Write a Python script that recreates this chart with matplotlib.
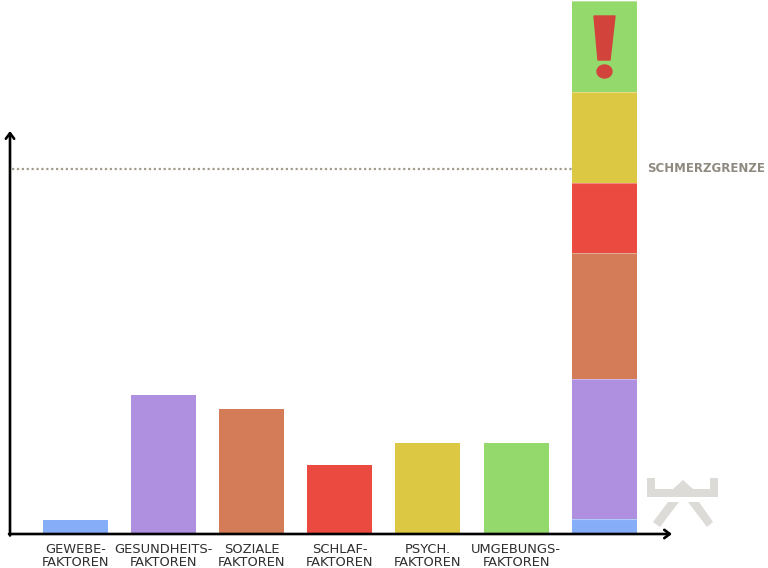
import matplotlib
matplotlib.use('Agg')
import matplotlib.pyplot as plt
from matplotlib.patches import Polygon, Ellipse

# bar heights
categories = ['GEWEBE-\nFAKTOREN', 'GESUNDHEITS-\nFAKTOREN', 'SOZIALE\nFAKTOREN',
              'SCHLAF-\nFAKTOREN', 'PSYCH.\nFAKTOREN', 'UMGEBUNGS-\nFAKTOREN']
values = [14, 139, 125, 69, 91, 91]
colors = ['#86aef8', '#af8fdf', '#d47b57', '#eb4a40', '#dcc842', '#93d96b']
stack_values = [15, 140, 126, 70, 91, 91]
threshold = 365

W, H = 768, 568
BASE = 534
SPACING = 88.1
X0 = 75.5
STACK_X = 6.0


def px(x, y):
    # picture pixels to data coordinates
    return (x - X0) / SPACING, BASE - y


fig = plt.figure(figsize=(7.68, 5.68), dpi=100)
ax = fig.add_axes([0, 0, 1, 1])
ax.set_xlim((0 - X0) / SPACING, (W - X0) / SPACING)
ax.set_ylim(BASE - H, BASE)
ax.axis('off')
bar_w = 65 / SPACING

positions = list(range(len(values)))
ax.bar(positions, values, width=bar_w, color=colors, linewidth=0)

# stacked column on the right
bottom = 0
for v, c in zip(stack_values, colors):
    ax.bar(STACK_X, v, bottom=bottom, width=bar_w, color=c, edgecolor='none', zorder=2)
    ax.plot([STACK_X - bar_w / 2, STACK_X + bar_w / 2], [bottom + v] * 2, color='#ffffff',
            alpha=0.35, lw=0.8, zorder=3)
    bottom += v

# threshold
ax.plot([px(12, 0)[0], STACK_X - bar_w / 2], [threshold, threshold], color='#a39c8c',
        lw=1.6, ls=(0, (1, 1.2)), zorder=1)
ax.text(*px(647, 168), 'SCHMERZGRENZE', color='#8f8a80', fontsize=8.5, fontweight='bold',
        family='DejaVu Sans', va='center', ha='left')

# axes arrows
arrow = dict(arrowstyle='->,head_length=0.4,head_width=0.3', color='black', lw=1.9,
             shrinkA=0, shrinkB=0)
ax.annotate('', xy=px(10, 131), xytext=px(10, 535.5), arrowprops=arrow, zorder=5)
ax.annotate('', xy=px(672, 534), xytext=px(9, 534), arrowprops=arrow, zorder=5)

# labels
for i, label in enumerate(categories):
    ax.text(i, px(0, 556)[1], label, ha='center', va='center', fontsize=9.4,
            color='#2f2f2f', linespacing=1.0, family='DejaVu Sans')

# exclamation mark
mark = [(594, 16), (615, 16), (610, 60), (598, 60)]
ax.add_patch(Polygon([px(*p) for p in mark], closed=True, color='#d2433c', zorder=4,
                     joinstyle='round', lw=1))
ax.add_patch(Ellipse(px(604.5, 71.5), 15 / SPACING, 13, color='#d2433c', zorder=4))

# bench icon
grey = '#dcdbd8'
for shape in [[(647, 478), (655, 478), (655, 489), (710, 489), (710, 478), (718, 478),
               (718, 497), (647, 497)],
              [(673, 489), (683, 480), (693, 489)],
              [(668, 502), (679, 502), (660, 527), (653, 522)],
              [(688, 502), (699, 502), (713, 522), (707, 527)]]:
    ax.add_patch(Polygon([px(*p) for p in shape], closed=True, color=grey, lw=0, zorder=4))

fig.savefig('out.png', dpi=100, facecolor='white')
